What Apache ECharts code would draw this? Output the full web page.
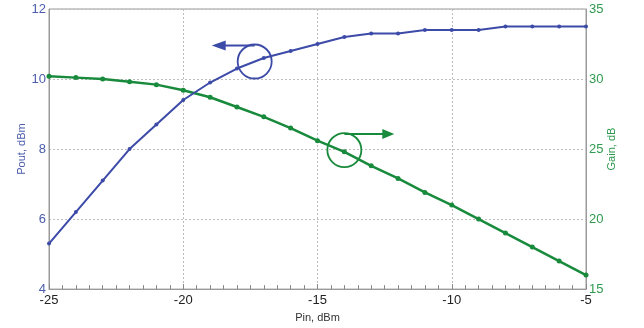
<!DOCTYPE html>
<html><head><meta charset="utf-8">
<script src="https://cdn.jsdelivr.net/npm/echarts@6/dist/echarts.min.js"></script>
<style>html,body{margin:0;padding:0;background:#fff}#c{width:644px;height:328px}</style>
</head><body><div id="c"></div>
<script>
const pin = [-25,-24,-23,-22,-21,-20,-19,-18,-17,-16,-15,-14,-13,-12,-11,-10,-9,-8,-7,-6,-5];
const pout = [5.3,6.2,7.1,8.0,8.7,9.4,9.9,10.3,10.6,10.8,11.0,11.2,11.3,11.3,11.4,11.4,11.4,11.5,11.5,11.5,11.5];
const gain = [30.2,30.1,30.0,29.8,29.6,29.2,28.7,28.0,27.3,26.5,25.6,24.8,23.8,22.9,21.9,21.0,20.0,19.0,18.0,17.0,16.0];
const xTicks = [-25,-20,-15,-10,-5];
const poutTicks = [4,6,8,10,12];
const gainTicks = [15,20,25,30,35];

const BLUE = '#3c4aa8', GREEN = '#188a3c';
const BLUE_T = '#4a5cab', GREEN_T = '#2f9a4f';
const FONT = 'Liberation Sans, Arial, sans-serif';

const chart = echarts.init(document.getElementById('c'), null, {renderer:'canvas'});
const option = {
  animation:false,
  backgroundColor:'#fff',
  grid:{left:49,right:58,top:9,bottom:35,show:true,borderColor:'#9a9a9a',borderWidth:1},
  xAxis:{type:'value',min:xTicks[0],max:xTicks[xTicks.length-1],interval:5,
    name:'Pin, dBm',nameLocation:'middle',nameGap:19,
    nameTextStyle:{color:'#333',fontSize:11,fontFamily:FONT},
    axisLine:{lineStyle:{color:'#9a9a9a'}},
    axisTick:{show:true,inside:true,length:5,lineStyle:{color:'#888'}},
    minorTick:{show:true,splitNumber:10,length:4,lineStyle:{color:'#888',width:1}},
    axisLabel:{color:'#222',fontSize:13,fontFamily:FONT,margin:5},
    splitLine:{show:true,lineStyle:{color:'#bdbdbd',type:[2,2]}}
  },
  yAxis:[
    {type:'value',min:poutTicks[0],max:poutTicks[poutTicks.length-1],interval:2,position:'left',
     name:'Pout, dBm',nameLocation:'middle',nameGap:22,nameMoveOverlap:false,
     nameTextStyle:{color:BLUE_T,fontSize:11,fontFamily:FONT},
     axisLine:{show:true,lineStyle:{color:'#9a9a9a'}},axisTick:{show:false},
     axisLabel:{color:BLUE_T,fontSize:13,fontFamily:FONT,margin:3},
     splitLine:{show:true,lineStyle:{color:'#bdbdbd',type:[2,2]}}},
    {type:'value',min:gainTicks[0],max:gainTicks[gainTicks.length-1],interval:5,position:'right',
     name:'Gain, dB',nameLocation:'middle',nameGap:20,nameMoveOverlap:false,
     nameTextStyle:{color:GREEN_T,fontSize:11,fontFamily:FONT},
     axisLine:{show:true,lineStyle:{color:'#9a9a9a'}},axisTick:{show:false},
     axisLabel:{color:GREEN_T,fontSize:13,fontFamily:FONT,margin:3},
     splitLine:{show:false}}
  ],
  series:[
    {type:'line',yAxisIndex:0,data:pin.map((x,i)=>[x,pout[i]]),
     symbol:'circle',symbolSize:4,itemStyle:{color:BLUE},lineStyle:{color:BLUE,width:2},z:3},
    {type:'line',yAxisIndex:1,data:pin.map((x,i)=>[x,gain[i]]),
     symbol:'circle',symbolSize:5,itemStyle:{color:GREEN},lineStyle:{color:GREEN,width:2.5},z:2}
  ]
};
chart.setOption(option);

function annot(){
  const g=[];
  const r=17;
  const bc = chart.convertToPixel({xAxisIndex:0,yAxisIndex:0},[-17.34,10.5]);
  g.push({type:'circle',shape:{cx:bc[0],cy:bc[1],r:r},style:{fill:null,stroke:BLUE,lineWidth:1.8}});
  const by=bc[1]-r+1, bx0=bc[0], bx1=chart.convertToPixel({xAxisIndex:0},-18.94);
  g.push({type:'line',shape:{x1:bx0,y1:by,x2:bx1+12,y2:by},style:{stroke:BLUE,lineWidth:2}});
  g.push({type:'polygon',shape:{points:[[bx1,by],[bx1+14,by-5],[bx1+14,by+5]]},style:{fill:BLUE}});
  const gc = chart.convertToPixel({xAxisIndex:0,yAxisIndex:1},[-14.0,24.93]);
  g.push({type:'circle',shape:{cx:gc[0],cy:gc[1],r:r},style:{fill:null,stroke:GREEN,lineWidth:1.8}});
  const gy=gc[1]-r+1, gx0=gc[0], gx1=chart.convertToPixel({xAxisIndex:0},-12.14);
  g.push({type:'line',shape:{x1:gx0,y1:gy,x2:gx1-10,y2:gy},style:{stroke:GREEN,lineWidth:2}});
  g.push({type:'polygon',shape:{points:[[gx1,gy],[gx1-12,gy-5],[gx1-12,gy+5]]},style:{fill:GREEN}});
  chart.setOption({graphic:g.map(e=>Object.assign(e,{z:10,silent:true}))});
}
annot();
</script></body></html>
